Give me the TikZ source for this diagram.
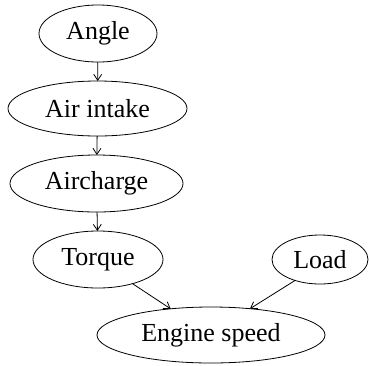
\documentclass[tikz,border=0pt]{standalone}
\usepackage{fontspec}
\setmainfont{Liberation Serif}
\usetikzlibrary{shapes.geometric,arrows.meta}
\tikzset{
  var/.style={ellipse,draw,line width=0.8pt,inner sep=0pt,outer sep=0pt,font=\fontsize{26}{30}\selectfont},
  link/.style={line width=0.8pt,-{Straight Barb[length=6pt,width=8pt]}}
}
\begin{document}
\begin{tikzpicture}[x=1pt,y=-1pt]
\useasboundingbox (0,0) rectangle (369,365);
\node[var,minimum width=118pt,minimum height=57pt] (angle) at (98,33.5) {Angle};
\node[var,minimum width=179pt,minimum height=55pt] (air) at (97.5,108.5) {Air intake};
\node[var,minimum width=173pt,minimum height=57pt] (charge) at (96.5,183.5) {Aircharge};
\node[var,minimum width=130pt,minimum height=57pt] (torque) at (98,259.5) {Torque};
\node[var,minimum width=96pt,minimum height=49pt] (load) at (320,259.5) {Load};
\node[var,minimum width=228pt,minimum height=56pt] (speed) at (211,335) {Engine speed};
\draw[link] (angle) -- (air);
\draw[link] (air) -- (charge);
\draw[link] (charge) -- (torque);
\draw[link] (torque.-35) -- (speed.147);
\draw[link] (load.220) -- (speed.34);
\end{tikzpicture}
\end{document}
